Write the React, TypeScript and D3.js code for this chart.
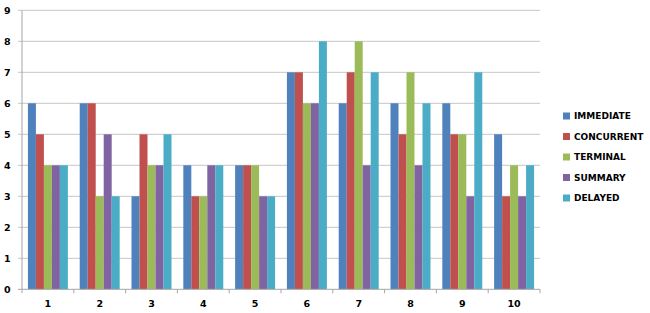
import React from "react";
import * as d3 from "d3";

const categories = ["1", "2", "3", "4", "5", "6", "7", "8", "9", "10"];
const seriesNames = ["IMMEDIATE", "CONCURRENT", "TERMINAL", "SUMMARY", "DELAYED"];
const immediate = [6, 6, 3, 4, 4, 7, 6, 6, 6, 5];
const concurrent = [5, 6, 5, 3, 4, 7, 7, 5, 5, 3];
const terminal = [4, 3, 4, 3, 4, 6, 8, 7, 5, 4];
const summary = [4, 5, 4, 4, 3, 6, 4, 4, 3, 3];
const delayed = [4, 3, 5, 4, 3, 8, 7, 6, 7, 4];
const yTicks = [0, 1, 2, 3, 4, 5, 6, 7, 8, 9];
const colors = ["#4F81BD", "#C0504D", "#9BBB59", "#8064A2", "#4BACC6"];

const seriesValues = [immediate, concurrent, terminal, summary, delayed];

export default function App() {
  const W = 650, H = 313;
  const left = 22, right = 540, top = 10.3, bottom = 289.3;
  const x = d3.scaleBand<string>().domain(categories).range([left, right]).paddingInner(0).paddingOuter(0);
  const inner = d3.scaleBand<string>().domain(seriesNames).range([0, x.bandwidth()]).paddingOuter(0.74).paddingInner(0);
  const y = d3.scaleLinear().domain([0, 9]).range([bottom, top]);
  const font = "'DejaVu Sans', Verdana, sans-serif";
  const boundaries = d3.range(categories.length + 1).map((i) => left + i * x.bandwidth());

  return (
    <svg width={W} height={H} style={{ position: "absolute", left: 0, top: 0, background: "#fff" }}>
      {yTicks.map((t) => (
        <g key={t}>
          {t > 0 && <line x1={18} x2={right} y1={y(t)} y2={y(t)} stroke="#c6c6c6" strokeWidth={1} />}
          <text x={10.5} y={y(t)} dy="0.35em" textAnchor="end" fontFamily={font} fontWeight="bold" fontSize={9.5} fill="#000">
            {t}
          </text>
        </g>
      ))}
      {categories.map((c, ci) => (
        <g key={c}>
          {seriesNames.map((s, si) => (
            <rect
              key={s}
              x={(x(c) as number) + (inner(s) as number)}
              y={y(seriesValues[si][ci])}
              width={inner.bandwidth()}
              height={y(0) - y(seriesValues[si][ci])}
              fill={colors[si]}
            />
          ))}
          <text x={(x(c) as number) + x.bandwidth() / 2} y={307} textAnchor="middle" fontFamily={font} fontWeight="bold" fontSize={9.5} fill="#000">
            {c}
          </text>
        </g>
      ))}
      <line x1={left} x2={left} y1={top} y2={bottom} stroke="#a6a6a6" strokeWidth={1} />
      <line x1={18} x2={right} y1={bottom} y2={bottom} stroke="#a6a6a6" strokeWidth={1} />
      {boundaries.map((b, i) => (
        <line key={i} x1={b} x2={b} y1={bottom} y2={bottom + 4} stroke="#a6a6a6" strokeWidth={1} />
      ))}
      {seriesNames.map((s, si) => {
        const ly = 116 + si * 20.5;
        return (
          <g key={s}>
            <rect x={563} y={ly - 3.5} width={7} height={7} fill={colors[si]} />
            <text x={574} y={ly} dy="0.35em" fontFamily={font} fontWeight="bold" fontSize={9} fill="#000">
              {s}
            </text>
          </g>
        );
      })}
    </svg>
  );
}
